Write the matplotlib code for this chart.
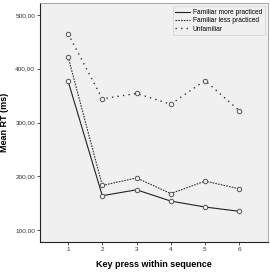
import matplotlib
matplotlib.use("Agg")
from matplotlib import pyplot as plt
from matplotlib.ticker import FuncFormatter

# data
key_press = [1, 2, 3, 4, 5, 6]
familiar_more = [377, 164, 175, 154, 143, 135]
familiar_less = [422, 183, 197, 168, 191, 177]
unfamiliar = [465, 344, 354, 334, 378, 322]
y_ticks = [100, 200, 300, 400, 500]

plt.rcParams['font.family'] = ['Liberation Sans', 'DejaVu Sans']

fig = plt.figure(figsize=(2.70, 2.72), dpi=100)
ax = fig.add_axes([40 / 270, 30 / 272, 228 / 270, 239 / 272])
ax.set_facecolor('#f0f0f0')

mk = dict(marker='o', markersize=3.2, markerfacecolor='#f0f0f0',
          markeredgecolor='#555555', markeredgewidth=0.7)
ax.plot(key_press, familiar_more, color='#222222', lw=0.8, ls='-',
        label='Familiar more practiced', **mk)
ax.plot(key_press, familiar_less, color='#333333', lw=0.8, ls=(0, (1.5, 1)),
        label='Familiar less practiced', **mk)
ax.plot(key_press, unfamiliar, color='#333333', lw=1.0, ls=(0, (1, 3)),
        label='Unfamiliar', **mk)

ax.set_xlim(0.18, 6.84)
ax.set_ylim(78, 522)
ax.set_xticks(key_press)
ax.set_yticks(y_ticks)
ax.yaxis.set_major_formatter(FuncFormatter(lambda v, p: ('%.2f' % v).replace('.', ',')))
ax.tick_params(labelsize=4.6, length=2.5, width=0.6, colors='#333333', pad=1)

for side in ['top', 'right']:
    ax.spines[side].set_color('#999999')
    ax.spines[side].set_linewidth(0.6)
for side in ['left', 'bottom']:
    ax.spines[side].set_color('#222222')
    ax.spines[side].set_linewidth(0.8)

ax.set_xlabel('Key press within sequence', fontsize=6.5, fontweight='bold', labelpad=6)
ax.set_ylabel('Mean RT (ms)', fontsize=6.5, fontweight='bold', labelpad=2)
ax.yaxis.set_label_coords(-0.135, 0.5)

leg = ax.legend(loc='upper right', fontsize=4.8, frameon=True, handlelength=2.2,
                handletextpad=0.4, borderpad=0.4, labelspacing=0.2, fancybox=False)
for h in leg.legend_handles:
    h.set_marker('')
leg.get_frame().set_edgecolor('#cccccc')
leg.get_frame().set_linewidth(0.5)
leg.get_frame().set_facecolor('#f0f0f0')

fig.savefig('out.png', dpi=100)
